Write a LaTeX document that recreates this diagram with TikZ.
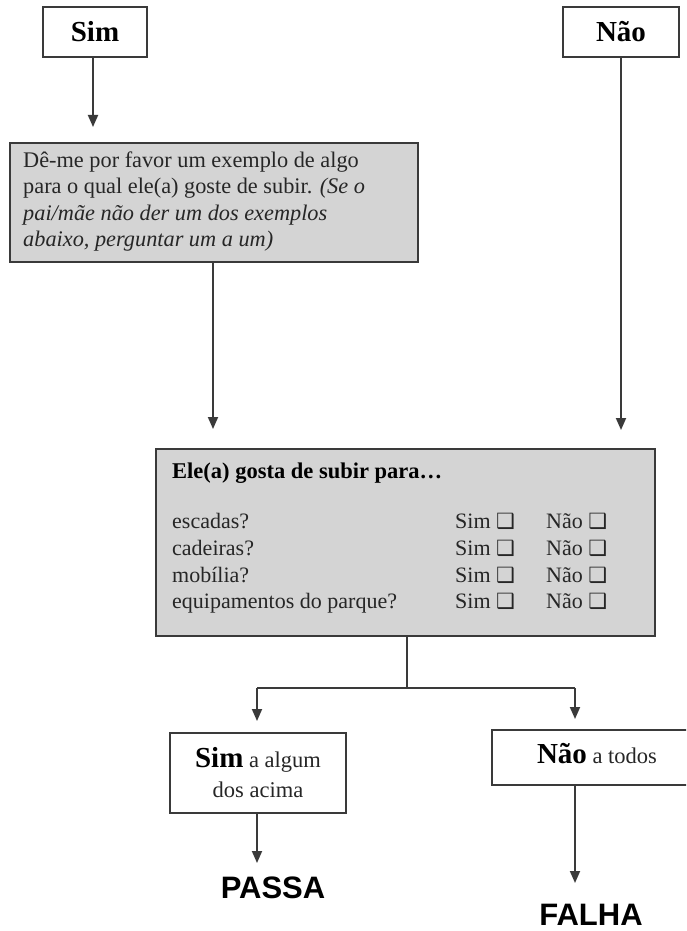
\documentclass[tikz,border=0pt]{standalone}
\usepackage{fontspec}
\setmainfont{Liberation Serif}
\newfontfamily\arialfam{Liberation Sans}
\newfontfamily\djvfam{DejaVu Sans}
\usetikzlibrary{arrows.meta}
\definecolor{boxgray}{HTML}{D4D4D4}
\definecolor{edgecol}{HTML}{3A3A3A}
\newcommand{\myckbox}{{\djvfam\fontsize{21}{21}\selectfont ❑}}
\begin{document}
\begin{tikzpicture}[x=1pt,y=-1pt,
  box/.style={draw=edgecol, line width=2.2pt, rectangle, inner sep=0pt},
  graybox/.style={box, fill=boxgray},
  conn/.style={draw=edgecol, line width=1.8pt},
  arr/.style={conn, -{Triangle[width=10pt,length=12pt]}},
  rowtext/.style={anchor=base west, inner sep=0pt, font=\fontsize{22}{26}\selectfont, text=black!85},
  bigbold/.style={font=\bfseries\fontsize{29}{30}\selectfont},
  result/.style={anchor=base, inner sep=0pt, font=\arialfam\bfseries\fontsize{31}{31}\selectfont}]
\useasboundingbox[fill=white] (0,0) rectangle (686,931);

% top boxes
\node[box, bigbold, minimum width=104pt, minimum height=50pt] (sim) at (95,32) {Sim};
\node[box, bigbold, minimum width=116pt, minimum height=50pt] (nao) at (621,32) {Não};

% first question box
\node[graybox, minimum width=408pt, minimum height=119pt] (q1) at (214,202.5) {};
\node[anchor=north west, inner sep=0pt, align=left,
      font=\fontsize{22.3}{26.5}\selectfont, text=black!85] (q1t) at (23,151.5)
  {Dê-me por favor um exemplo de algo\\
   para o qual ele(a) goste de subir. \textit{(Se o}\\
   \textit{pai/mãe não der um dos exemplos}\\
   \textit{abaixo, perguntar um a um)}};

\coordinate (a1) at (93,127);
\coordinate (a2) at (213,429);
\coordinate (a3) at (621,430);
\draw[arr] (a1 |- sim.south) -- (a1);
\draw[arr] (a2 |- q1.south) -- (a2);
\draw[arr] (a3 |- nao.south) -- (a3);

% second question box
\node[graybox, minimum width=499pt, minimum height=187pt] (q2) at (405.5,542.5) {};
\node[anchor=base west, inner sep=0pt, font=\bfseries\fontsize{22.5}{27}\selectfont] (h) at (172,478)
  {Ele(a) gosta de subir para…};
\foreach \i/\t/\y in {1/escadas?/528, 2/cadeiras?/555, 3/mobília?/582, 4/equipamentos do parque?/608} {
  \node[rowtext] (r\i) at (172,\y) {\t};
  \node[rowtext] (s\i) at (455,\y) {Sim \myckbox};
  \node[rowtext] (n\i) at (546,\y) {Não \myckbox};
}

% branching
\coordinate (j) at (407,688);
\coordinate (bl) at (257,688);
\coordinate (br) at (575,688);
\coordinate (tl) at (257,721);
\coordinate (tr) at (575,719);
\draw[conn] (j |- q2.south) -- (j);
\draw[conn] (bl) -- (br);
\draw[arr] (bl) -- (tl);
\draw[arr] (br) -- (tr);

% answer boxes
\node[box, minimum width=176pt, minimum height=80pt, align=center,
      font=\fontsize{22.5}{30}\selectfont, text=black!85] (yes) at (258,773)
  {{\bfseries\fontsize{29}{30}\selectfont\color{black}Sim} a algum\\dos acima};
\begin{scope}
  \clip (0,0) rectangle (686,931);
  \node[box, minimum width=210pt, minimum height=55pt] (no) at (597,757.5) {};
\end{scope}
\node[anchor=base, inner sep=0pt, font=\fontsize{22.5}{27}\selectfont, text=black!85] (not) at (597,763)
  {{\bfseries\fontsize{29}{30}\selectfont\color{black}Não} a todos};

% results
\coordinate (pt) at (257,863);
\coordinate (ft) at (575,883);
\draw[arr] (pt |- yes.south) -- (pt);
\draw[arr] (ft |- no.south) -- (ft);
\node[result] (pass) at (273,898) {PASSA};
\node[result] (fail) at (591,925) {FALHA};
\end{tikzpicture}
\end{document}
